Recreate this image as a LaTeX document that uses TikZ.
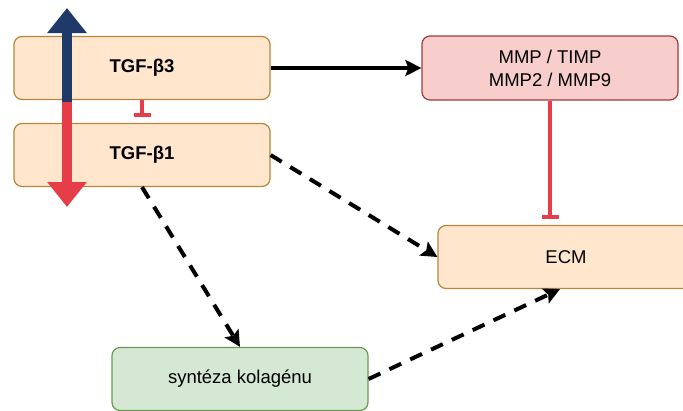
\documentclass[tikz,border=0pt]{standalone}
\usepackage{fontspec}
\setmainfont{Liberation Sans}
\usetikzlibrary{arrows.meta}
\usetikzlibrary{positioning}

\definecolor{tgffill}{HTML}{FFE6CC}
\definecolor{tgfline}{HTML}{B5863C}
\definecolor{mmpfill}{HTML}{F8CECC}
\definecolor{mmpline}{HTML}{A03A3A}
\definecolor{kolfill}{HTML}{D5E8D4}
\definecolor{kolline}{HTML}{6A9A50}
\definecolor{upblue}{HTML}{1F3A68}
\definecolor{inhred}{HTML}{E63E48}

\begin{document}
\begin{tikzpicture}[x=1pt,y=-1pt]
% define box types
\tikzstyle{tgfbox}=[draw=tgfline, fill=tgffill, rectangle, rounded corners=8pt,
    line width=1.2pt, minimum width=256pt, minimum height=63pt,
    font=\fontsize{18.5}{22}\selectfont\bfseries]
\tikzstyle{mmpbox}=[draw=mmpline, fill=mmpfill, rectangle, rounded corners=8pt,
    line width=1.2pt, minimum width=256pt, minimum height=64pt, align=center,
    font=\fontsize{18.5}{23}\selectfont]
\tikzstyle{ecmbox}=[draw=tgfline, fill=tgffill, rectangle, rounded corners=8pt,
    line width=1.2pt, minimum width=256pt, minimum height=63pt,
    font=\fontsize{18.5}{22}\selectfont]
\tikzstyle{kolbox}=[draw=kolline, fill=kolfill, rectangle, rounded corners=8pt,
    line width=1.2pt, minimum width=256pt, minimum height=63pt,
    font=\fontsize{18.5}{22}\selectfont]
\tikzstyle{a}=[line width=4pt,-{Stealth[length=16pt,width=16pt,inset=3pt]}]
\tikzstyle{ad}=[a, dash pattern=on 13pt off 10pt]
\tikzstyle{inh}=[line width=3.5pt, draw=inhred, -{Bar[width=17pt]}, shorten >=6pt]
\tikzstyle{big}=[line width=10pt,-{Triangle[length=25pt,width=38pt]}]
\clip (0,0) rectangle (683,410);
% boxes
\node[tgfbox] (tgf3) at (142,68) {TGF-β3};
\node[tgfbox] (tgf1) at (142,155) {TGF-β1};
\node[mmpbox] (mmp) at (550,68) {MMP / TIMP\\MMP2 / MMP9};
\node[ecmbox] (ecm) at (566,257) {ECM};
\node[kolbox] (kol) at (240,379) {syntéza kolagénu};
% up / down arrow
\coordinate (mid) at (67,102);
\coordinate (up) at (67,8);
\coordinate (down) at (67,207);
\draw[big, upblue] (mid) -- (up);
\draw[big, inhred] (mid) -- (down);
% connections
\draw[inh] (tgf3) -- (tgf1);
\draw[inh] (mmp.south) -- (mmp.south |- ecm.north);
\draw[a] (tgf3) -- (mmp);
\draw[ad] (tgf1.east) -- (ecm.west);
\draw[ad] (tgf1.south) -- (kol.north);
\draw[ad] (kol.east) -- ([xshift=-6pt]ecm.south);
\end{tikzpicture}
\end{document}
